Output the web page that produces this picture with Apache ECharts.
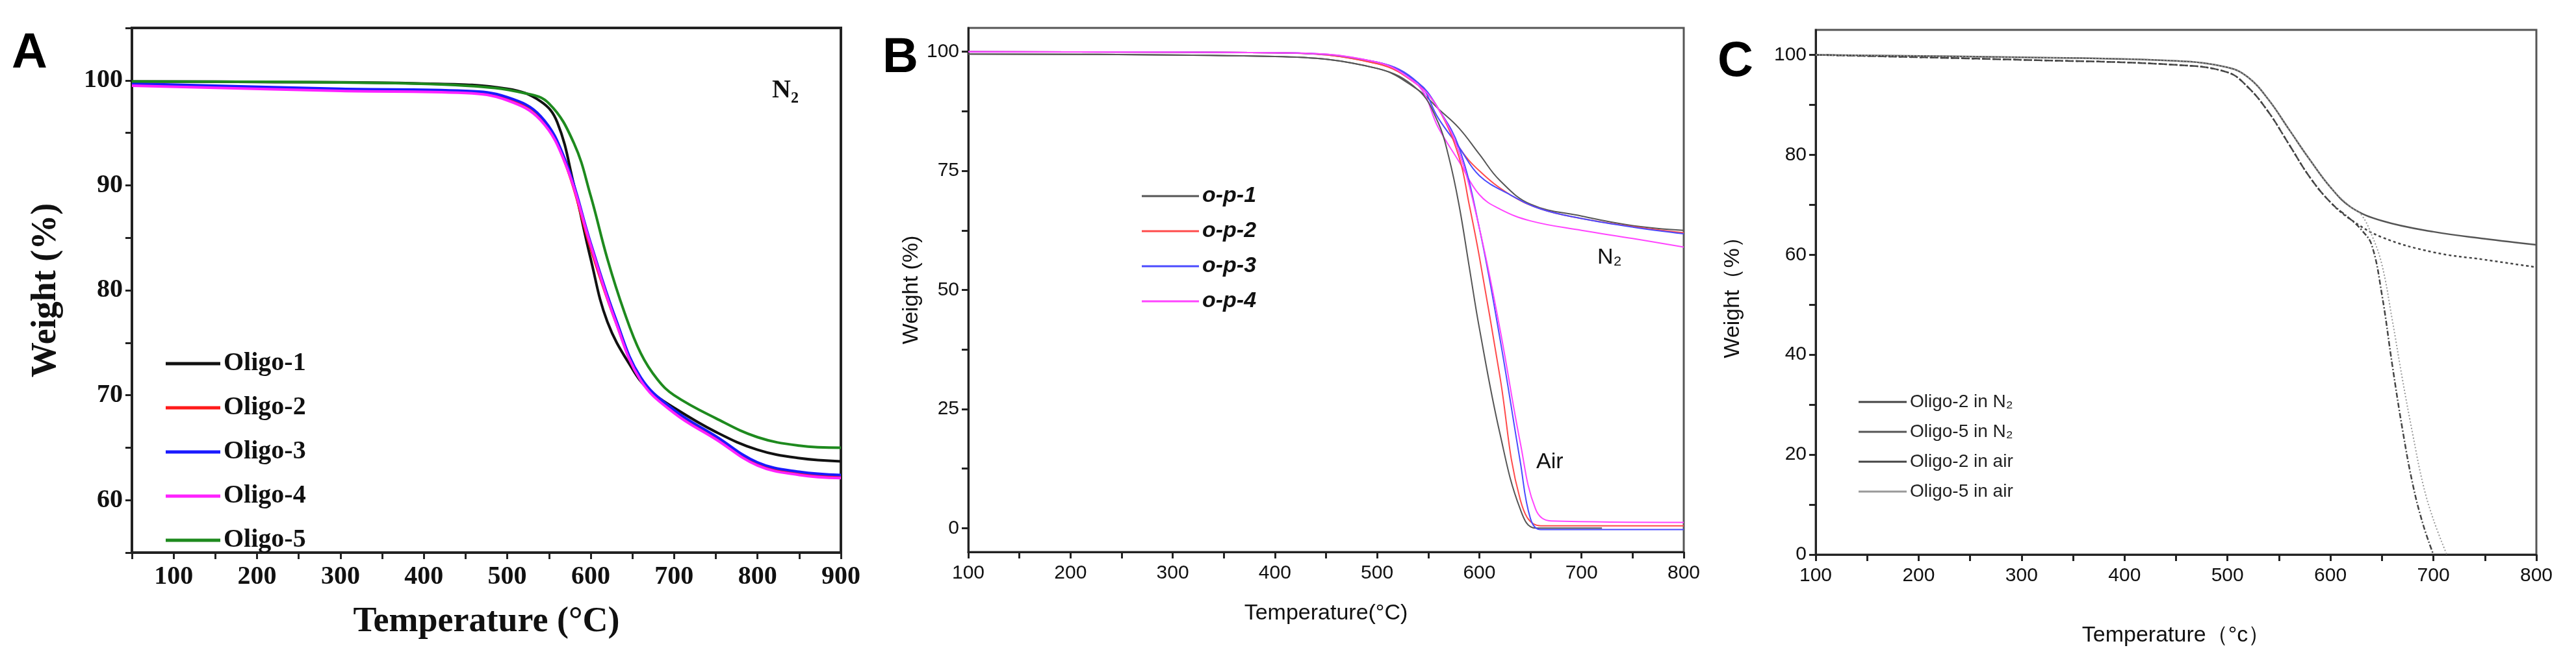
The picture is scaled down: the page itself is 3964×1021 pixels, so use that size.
<!DOCTYPE html>
<html><head><meta charset="utf-8">
<script src="https://cdn.jsdelivr.net/npm/echarts@6/dist/echarts.min.js"></script>
<style>html,body{margin:0;background:#fff}#c{width:3964px;height:1021px}</style>
</head><body><div id="c"></div>
<script>
// ---- panel A: TGA in N2 ----
var a_oligo1 = [[50,99.9],[200,99.85],[400,99.7],[500,99.2],[540,98],[560,96],[580,90],[600,83],[620,77],[650,72.5],[670,70.5],[700,68.8],[750,66.5],[800,64.8],[850,64],[900,63.7]];
var a_oligo2 = [[50,99.6],[300,99.1],[450,98.9],[500,98.3],[540,96.5],[570,92],[600,84],[630,77],[660,71.5],[700,68.5],[750,66],[800,63.5],[850,62.6],[900,62.3]];
var a_oligo3 = [[50,99.7],[300,99.2],[450,99],[500,98.4],[540,96.6],[570,92.3],[600,84.5],[630,77.3],[660,71.7],[700,68.6],[750,66.1],[800,63.6],[850,62.7],[900,62.4]];
var a_oligo4 = [[50,99.5],[300,99],[450,98.8],[500,98.1],[540,96.2],[570,92],[600,84.3],[630,77],[660,71.4],[700,68.3],[750,65.8],[800,63.3],[850,62.4],[900,62.1]];
var a_oligo5 = [[50,99.9],[300,99.8],[450,99.5],[520,98.8],[550,97.8],[580,94],[600,89],[620,83],[640,78],[660,74],[680,71.5],[700,70],[750,67.8],[800,66],[850,65.2],[900,65]];
// ---- panel B: N2 and air ----
var b_op1_n2 = [[100,99.5],[400,99],[500,96.5],[540,92],[560,88],[580,84],[600,78.5],[620,73],[650,68],[700,65.5],[750,63.5],[800,62.5]];
var b_op2_n2 = [[100,100],[400,99.8],[500,97.5],[540,93],[560,88],[580,80],[600,75],[630,70],[660,67],[700,65],[750,63.3],[800,62]];
var b_op3_n2 = [[100,100],[400,99.8],[500,97.8],[540,93.5],[560,86],[580,80],[600,74],[630,70],[660,67],[700,65],[750,63.2],[800,61.8]];
var b_op4_n2 = [[100,100],[400,99.8],[500,97.8],[540,93],[560,84],[580,77],[600,70],[620,67],[650,64.5],[700,62.5],[750,60.8],[800,59]];
var b_op1_air = [[100,99.5],[400,99],[500,96.5],[540,92],[560,85],[570,78],[580,68],[590,55],[600,42],[620,20],[640,4],[655,0],[720,0]];
var b_op2_air = [[100,100],[400,99.8],[500,97.5],[540,93],[560,88],[580,78],[590,68],[600,57],[620,32],[640,6],[660,0.5],[800,0.5]];
var b_op3_air = [[100,100],[400,99.8],[500,97.8],[540,93.5],[560,88],[580,80],[600,63],[620,40],[640,14],[650,2],[660,-0.3],[800,-0.3]];
var b_op4_air = [[100,100],[400,99.8],[500,97.8],[540,93],[560,88],[580,79],[600,63],[620,42],[640,18],[655,4],[670,1.5],[800,1.2]];
// ---- panel C ----
var c_o2_n2 = [[100,100],[300,99],[450,98],[500,96.5],[520,93.5],[540,88.5],[560,82],[580,75.5],[600,70.5],[620,67],[650,63.5],[700,60.5],[750,59],[800,57.5]];
var c_o5_n2 = [[100,100],[300,99.5],[450,98.8],[500,97.5],[520,95.5],[540,91],[560,85],[580,79],[600,73.5],[620,69.5],[650,66.8],[700,64.6],[750,63.2],[800,62]];
var c_o2_air = [[100,100],[300,99],[450,98],[500,96.5],[520,93.5],[540,88.5],[560,82],[580,75.5],[600,70.5],[620,67],[630,65],[640,62],[650,52],[660,38],[670,25],[680,14],[690,6],[700,0]];
var c_o5_air = [[100,100],[300,99.5],[450,98.8],[500,97.5],[520,95.5],[540,91],[560,85],[580,79],[600,73.5],[620,69.5],[630,68],[640,64],[650,58],[660,47],[670,35],[680,24],[690,14],[700,7],[713,0]];

var xTicksA = [100,200,300,400,500,600,700,800,900];
var yTicksA = [60,70,80,90,100];
var xTicksBC = [100,200,300,400,500,600,700,800];
var yTicksB = [0,25,50,75,100];
var yTicksC = [0,20,40,60,80,100];

var chart = echarts.init(document.getElementById('c'));
var serif = 'Liberation Serif', sans = 'Liberation Sans';

function axisX(idx, min, max, labels, font, size, bold, name, nameGap, nameSize) {
  var minor = [];
  for (var v = min; v <= max; v += 50) minor.push(v);
  return {
    type: 'value', gridIndex: idx, min: min, max: max, name: name, nameLocation: 'middle',
    nameGap: nameGap, nameTextStyle: {fontFamily: font, fontSize: nameSize, fontWeight: bold ? 'bold' : 'normal', color: '#111'},
    axisLine: {onZero: false, lineStyle: {color: '#222', width: idx === 0 ? 4 : 3}},
    axisTick: {customValues: minor, length: 10, lineStyle: {color: '#222', width: 3}},
    axisLabel: {customValues: labels, fontFamily: font, fontSize: size, fontWeight: bold ? 'bold' : 'normal', color: '#111', margin: 18},
    splitLine: {show: false}
  };
}
function axisY(idx, min, max, labels, ticks, font, size, bold, name, nameGap, nameSize) {
  return {
    type: 'value', gridIndex: idx, min: min, max: max, name: name, nameLocation: 'middle',
    nameGap: nameGap, nameTextStyle: {fontFamily: font, fontSize: nameSize, fontWeight: bold ? 'bold' : 'normal', color: '#111'},
    axisLine: {onZero: false, lineStyle: {color: '#222', width: idx === 0 ? 4 : 3}},
    axisTick: {customValues: ticks, length: 10, lineStyle: {color: '#222', width: 3}},
    axisLabel: {customValues: labels, fontFamily: font, fontSize: size, fontWeight: bold ? 'bold' : 'normal', color: '#111', margin: 14},
    splitLine: {show: false}
  };
}
function line(name, data, g, color, width, type) {
  return {name: name, type: 'line', xAxisIndex: g, yAxisIndex: g, data: data, symbol: 'none', smooth: 0.4,
    lineStyle: {color: color, width: width, type: type || 'solid'}, itemStyle: {color: color}};
}

chart.setOption({
  animation: false,
  backgroundColor: '#fff',
  grid: [
    {left: 203, top: 43, width: 1091, height: 808, show: true, borderColor: '#222', borderWidth: 4},
    {left: 1490, top: 43, width: 1101, height: 807, show: true, borderColor: '#555', borderWidth: 3},
    {left: 2794, top: 46, width: 1109, height: 808, show: true, borderColor: '#555', borderWidth: 3}
  ],
  xAxis: [
    axisX(0, 50, 900, xTicksA, serif, 40, true, 'Temperature (°C)', 80, 54),
    axisX(1, 100, 800, xTicksBC, sans, 30, false, 'Temperature(°C)', 78, 34),
    axisX(2, 100, 800, xTicksBC, sans, 30, false, 'Temperature（°c）', 108, 34)
  ],
  yAxis: [
    axisY(0, 55, 105, yTicksA, [55,60,65,70,75,80,85,90,95,100,105], serif, 40, true, 'Weight (%)', 105, 54),
    axisY(1, -5, 105, yTicksB, [0,12.5,25,37.5,50,62.5,75,87.5,100], sans, 30, false, 'Weight (%)', 70, 34),
    axisY(2, 0, 105, yTicksC, [0,10,20,30,40,50,60,70,80,90,100], sans, 30, false, 'Weight（%）', 110, 34)
  ],
  legend: [
    {data: ['Oligo-1','Oligo-2','Oligo-3','Oligo-4','Oligo-5'], orient: 'vertical', left: 250, top: 535, itemGap: 28,
      icon: 'rect', itemWidth: 84, itemHeight: 5, textStyle: {fontFamily: serif, fontWeight: 'bold', fontSize: 40, color: '#111'}},
    {data: ['o-p-1','o-p-2','o-p-3','o-p-4'], orient: 'vertical', left: 1752, top: 280, itemGap: 20,
      icon: 'rect', itemWidth: 88, itemHeight: 3, textStyle: {fontFamily: sans, fontWeight: 'bold', fontStyle: 'italic', fontSize: 34, color: '#111'}},
    {data: ['Oligo-2 in N₂','Oligo-5 in N₂','Oligo-2 in air','Oligo-5 in air'], orient: 'vertical', left: 2855, top: 600, itemGap: 18,
      icon: 'rect', itemWidth: 74, itemHeight: 3, textStyle: {fontFamily: sans, fontSize: 28, color: '#222'}}
  ],
  graphic: [
    {type: 'text', left: 18, top: 45, style: {text: 'A', font: 'bold 76px "Liberation Sans"', fill: '#000'}},
    {type: 'text', left: 1358, top: 52, style: {text: 'B', font: 'bold 76px "Liberation Sans"', fill: '#000'}},
    {type: 'text', left: 2643, top: 58, style: {text: 'C', font: 'bold 76px "Liberation Sans"', fill: '#000'}},
    {type: 'text', left: 1188, top: 120, style: {text: 'N₂', font: 'bold 40px "Liberation Serif"', fill: '#111'}},
    {type: 'text', left: 2458, top: 380, style: {text: 'N₂', font: '34px "Liberation Sans"', fill: '#111'}},
    {type: 'text', left: 2364, top: 695, style: {text: 'Air', font: '34px "Liberation Sans"', fill: '#111'}}
  ],
  series: [
    line('Oligo-1', a_oligo1, 0, '#111', 4),
    line('Oligo-2', a_oligo2, 0, '#ff1a1a', 4),
    line('Oligo-3', a_oligo3, 0, '#1a1aff', 4),
    line('Oligo-4', a_oligo4, 0, '#ff22ff', 4),
    line('Oligo-5', a_oligo5, 0, '#1e8a1e', 4),
    line('o-p-1', b_op1_n2, 1, '#555', 2),
    line('o-p-2', b_op2_n2, 1, '#ff4a4a', 2),
    line('o-p-3', b_op3_n2, 1, '#4a4aff', 2),
    line('o-p-4', b_op4_n2, 1, '#ff44ff', 2),
    line('o-p-1', b_op1_air, 1, '#555', 2),
    line('o-p-2', b_op2_air, 1, '#ff4a4a', 2),
    line('o-p-3', b_op3_air, 1, '#4a4aff', 2),
    line('o-p-4', b_op4_air, 1, '#ff44ff', 2),
    line('Oligo-2 in N₂', c_o2_n2, 2, '#444', 2.5, [4, 4]),
    line('Oligo-5 in N₂', c_o5_n2, 2, '#555', 2.5),
    line('Oligo-2 in air', c_o2_air, 2, '#444', 2.5, [8, 3, 2, 3]),
    line('Oligo-5 in air', c_o5_air, 2, '#999', 2, [2, 3])
  ]
});
</script></body></html>
